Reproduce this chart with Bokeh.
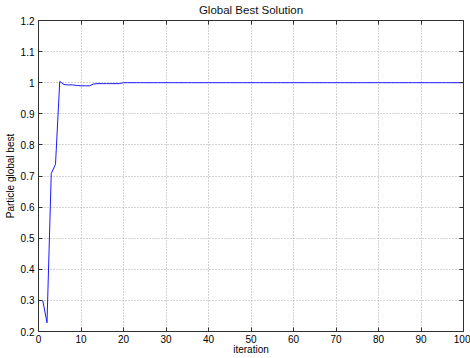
from bokeh.plotting import figure
from bokeh.models import LinearAxis, FixedTicker, ColumnDataSource, Range1d
from bokeh.embed import file_html
from bokeh.resources import INLINE

# data
iterations = list(range(1, 101))
global_best = [
    0.300, 0.228, 0.708, 0.738, 1.004, 0.994, 0.993, 0.993, 0.991, 0.990,
    0.990, 0.990, 0.996, 0.997, 0.997, 0.997, 0.997, 0.997, 0.997, 1.000,
    1.000, 1.000, 1.000, 1.000, 1.000, 1.000, 1.000, 1.000, 1.000, 1.000,
    1.000, 1.000, 1.000, 1.000, 1.000, 1.000, 1.000, 1.000, 1.000, 1.000,
    1.000, 1.000, 1.000, 1.000, 1.000, 1.000, 1.000, 1.000, 1.000, 1.000,
    1.000, 1.000, 1.000, 1.000, 1.000, 1.000, 1.000, 1.000, 1.000, 1.000,
    1.000, 1.000, 1.000, 1.000, 1.000, 1.000, 1.000, 1.000, 1.000, 1.000,
    1.000, 1.000, 1.000, 1.000, 1.000, 1.000, 1.000, 1.000, 1.000, 1.000,
    1.000, 1.000, 1.000, 1.000, 1.000, 1.000, 1.000, 1.000, 1.000, 1.000,
    1.000, 1.000, 1.000, 1.000, 1.000, 1.000, 1.000, 1.000, 1.000, 1.000,
]
xticks = [0, 10, 20, 30, 40, 50, 60, 70, 80, 90, 100]
yticks = [0.2, 0.3, 0.4, 0.5, 0.6, 0.7, 0.8, 0.9, 1.0, 1.1, 1.2]
ytick_labels = ["0.2", "0.3", "0.4", "0.5", "0.6", "0.7", "0.8", "0.9", "1", "1.1", "1.2"]
title_text = "Global Best Solution"

FONT = "Liberation Sans"
AXC = "#303030"

p = figure(width=470, height=358, output_backend="svg", toolbar_location=None,
           title_location=None,
           x_range=Range1d(0, 100), y_range=Range1d(0.2, 1.2),
           min_border_left=38, min_border_right=7, min_border_top=20, min_border_bottom=27,
           background_fill_color="white", border_fill_color="white")

src = ColumnDataSource(dict(x=iterations, y=global_best))
p.line("x", "y", source=src, line_color="#1a1aff", line_width=1)

p.outline_line_color = AXC
p.outline_line_width = 1

for ax in (p.xaxis[0], p.yaxis[0]):
    ax.major_tick_in = 4
    ax.major_tick_out = 0
    ax.minor_tick_line_color = None
    ax.axis_line_color = AXC
    ax.major_tick_line_color = AXC
    ax.major_label_text_font = FONT
    ax.major_label_text_font_size = "10px"
    ax.major_label_text_color = "black"
    ax.axis_label_text_font = FONT
    ax.axis_label_text_font_size = "10px"
    ax.axis_label_text_font_style = "normal"
    ax.axis_label_text_color = "black"

p.xaxis[0].ticker = FixedTicker(ticks=xticks)
p.yaxis[0].ticker = FixedTicker(ticks=yticks)
p.yaxis[0].major_label_overrides = {t: l for t, l in zip(yticks, ytick_labels)}
p.xaxis[0].axis_label = "iteration"
p.yaxis[0].axis_label = "Particle global best"
p.xaxis[0].major_label_standoff = 3
p.yaxis[0].major_label_standoff = 4
p.xaxis[0].axis_label_standoff = -2
p.yaxis[0].axis_label_standoff = 2

right = LinearAxis(ticker=FixedTicker(ticks=yticks), major_tick_in=4, major_tick_out=0,
                   minor_tick_line_color=None, major_label_text_font_size="1px",
                   major_label_overrides={t: "" for t in yticks},
                   major_label_standoff=0, axis_line_color=AXC,
                   major_tick_line_color=AXC)
top = LinearAxis(ticker=FixedTicker(ticks=xticks), major_tick_in=4, major_tick_out=0,
                 minor_tick_line_color=None, major_label_text_font_size="1px",
                 major_label_overrides={t: "" for t in xticks},
                 major_label_standoff=0, axis_line_color=AXC,
                 major_tick_line_color=AXC,
                 axis_label=title_text, axis_label_standoff=5,
                 axis_label_text_font=FONT, axis_label_text_font_size="11.5px",
                 axis_label_text_font_style="normal", axis_label_text_color="#111111")
p.add_layout(right, "right")
p.add_layout(top, "above")

p.xgrid[0].ticker = FixedTicker(ticks=xticks)
p.ygrid[0].ticker = FixedTicker(ticks=yticks)
for g in (p.xgrid[0], p.ygrid[0]):
    g.grid_line_color = "#a8a8a8"
    g.grid_line_dash = "1 2"
    g.grid_line_width = 1

open("out.html", "w").write(file_html(p, INLINE))
